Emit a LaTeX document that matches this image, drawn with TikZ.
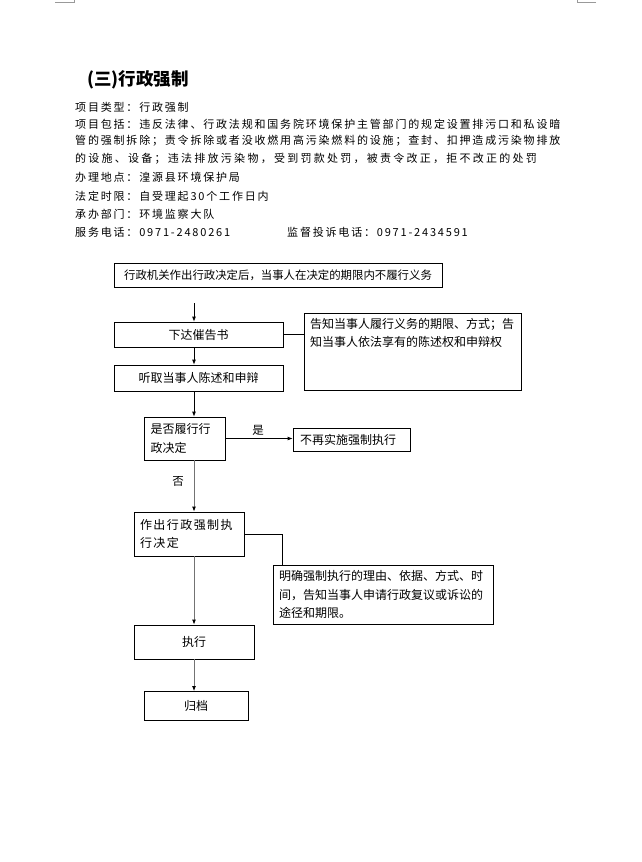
\documentclass[tikz,border=0pt]{standalone}
\usepackage{fontspec}
\setmainfont{Noto Sans CJK SC}
\usetikzlibrary{arrows.meta}
\begin{document}
\begin{tikzpicture}[x=1pt,y=-1pt,
  hdr/.style={anchor=west,inner sep=0pt,font=\fontsize{11}{13}\selectfont\addfontfeature{LetterSpace=16.5}},
  box/.style={draw,line width=0.8pt,inner sep=0pt,font=\fontsize{12}{18.5}\selectfont},
  arr/.style={line width=0.8pt,-{Latex[length=5pt,width=4pt]}},
  garr/.style={line width=0.9pt,draw=black!55,-{Latex[length=5pt,width=4pt,fill=black,color=black]}},
  lab/.style={inner sep=0pt,font=\fontsize{11.5}{13}\selectfont},
  conn/.style={line width=0.8pt}]
\useasboundingbox (0,0) rectangle (642,862);
% page corner marks
\draw[black!40,line width=0.8pt] (55,2) -- (74,2) -- (74,0);
\draw[black!40,line width=0.8pt] (596,2) -- (577,2) -- (577,0);
% header
\node[anchor=west,inner sep=0pt,font=\fontsize{17.5}{20}\selectfont\bfseries] (title) at (87,80) {(三)行政强制};
\node[hdr] (h1) at (75,107) {项目类型：行政强制};
\node[hdr] (h2) at (75,124) {项目包括：违反法律、行政法规和国务院环境保护主管部门的规定设置排污口和私设暗};
\node[hdr] (h3) at (75,141) {管的强制拆除；责令拆除或者没收燃用高污染燃料的设施；查封、扣押造成污染物排放};
\node[hdr,font=\fontsize{11}{13}\selectfont\addfontfeature{LetterSpace=20.5}] (h4) at (75,159) {的设施、设备；违法排放污染物，受到罚款处罚，被责令改正，拒不改正的处罚};
\node[hdr] (h5) at (75,177) {办理地点：湟源县环境保护局};
\node[hdr] (h6) at (75,196) {法定时限：自受理起30个工作日内};
\node[hdr] (h7) at (75,214) {承办部门：环境监察大队};
\node[hdr] (h8) at (75,232) {服务电话：0971-2480261};
\node[hdr] (h9) at (287,232) {监督投诉电话：0971-2434591};
% flowchart boxes
\node[box,minimum width=328pt,minimum height=24pt,font=\fontsize{11.4}{18}\selectfont] (b1) at (278,275) {行政机关作出行政决定后，当事人在决定的期限内不履行义务};
\node[box,minimum width=169pt,minimum height=25pt] (b2) at (198.5,334.5) {下达催告书};
\node[box,minimum width=169pt,minimum height=26pt] (b3) at (198.5,378) {听取当事人陈述和申辩};
\node[box,minimum width=217pt,minimum height=77pt] (s1) at (412.5,351.5)
  {\parbox[c][67pt][t]{205pt}{告知当事人履行义务的期限、方式；告\\知当事人依法享有的陈述权和申辩权}};
\node[box,minimum width=81pt,minimum height=43pt] (b4) at (184.5,438.5)
  {\parbox{68pt}{是否履行行\\政决定}};
\node[box,minimum width=117pt,minimum height=23pt] (b5) at (351.5,439.5) {\parbox{103pt}{不再实施强制执行}};
\node[box,minimum width=110pt,minimum height=44pt] (b6) at (189,534)
  {\parbox{98pt}{\addfontfeature{LetterSpace=12}作出行政强制执\\行决定}};
\node[box,minimum width=220pt,minimum height=59pt] (s2) at (383,594.5)
  {\parbox{208pt}{明确强制执行的理由、依据、方式、时\\间，告知当事人申请行政复议或诉讼的\\途径和期限。}};
\node[box,minimum width=120pt,minimum height=34pt] (b7) at (194,642) {执行};
\node[box,minimum width=104pt,minimum height=29pt] (b8) at (196,706) {归档};
% labels
\node[lab] (yes) at (258,430) {是};
\node[lab] (no) at (178,481) {否};
% connectors
\coordinate (c1) at (194,303);
\coordinate (cx) at (194,0);
\draw[arr] (c1) -- (b2.north -| c1);
\draw[arr] (b2.south -| cx) -- (b3.north -| cx);
\draw[arr] (b3.south -| cx) -- (b4.north -| cx);
\draw[conn] (b2.east) -- (s1.west |- b2.east);
\draw[arr] (b4.east) -- (b5.west |- b4.east);
\draw[garr] (b4.south -| cx) -- (b6.north -| cx);
\draw[conn] (b6.east) -| ([xshift=10pt]s2.north west);
\draw[garr] (b6.south -| cx) -- (b7.north -| cx);
\draw[garr] (b7.south -| cx) -- (b8.north -| cx);
\end{tikzpicture}
\end{document}
